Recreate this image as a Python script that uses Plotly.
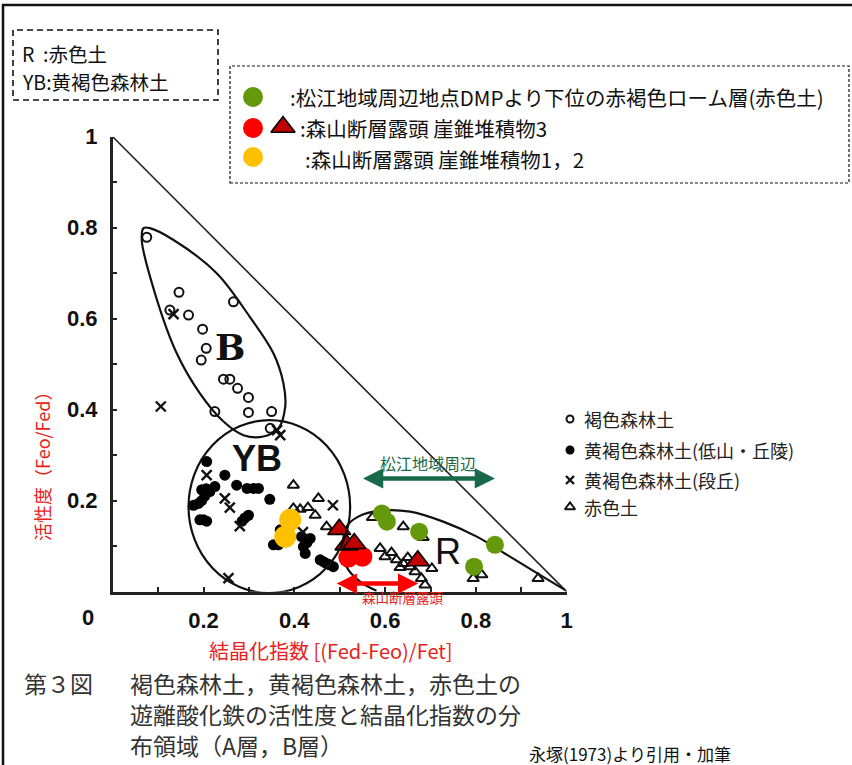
import plotly.graph_objects as go

W, H = 852, 765

# ---- data (x = 結晶化指数, y = 活性度) ----
hyp_x = [0.0, 1.0]
hyp_y = [1.0, 0.0]

b_zone_x = [0.068, 0.064, 0.093, 0.141, 0.192, 0.244, 0.288, 0.332, 0.365, 0.380, 0.376, 0.354, 0.302, 0.229, 0.134, 0.082, 0.068]
b_zone_y = [0.799, 0.773, 0.656, 0.524, 0.436, 0.374, 0.344, 0.341, 0.359, 0.407, 0.458, 0.524, 0.604, 0.700, 0.773, 0.799, 0.799]

yb_zone = [0.167, -0.003, 0.523, 0.377]  # x0, y0, x1, y1

r_zone_x = [0.581, 0.545, 0.515, 0.507, 0.515, 0.541, 0.589, 0.655, 0.728, 0.802, 0.875, 0.941, 0.996]
r_zone_y = [0.002, 0.022, 0.055, 0.099, 0.143, 0.165, 0.178, 0.176, 0.154, 0.121, 0.077, 0.037, 0.004]

brown_x = [0.075, 0.146, 0.126, 0.167, 0.266, 0.198, 0.206, 0.195, 0.244, 0.258, 0.275, 0.299, 0.225, 0.299, 0.350, 0.347]
brown_y = [0.779, 0.658, 0.619, 0.608, 0.637, 0.577, 0.535, 0.509, 0.467, 0.467, 0.447, 0.427, 0.396, 0.394, 0.396, 0.359]

hill_x = [0.207, 0.247, 0.273, 0.296, 0.310, 0.321, 0.346, 0.196, 0.206, 0.214, 0.225, 0.196, 0.178, 0.203, 0.189,
          0.192, 0.200, 0.207, 0.285, 0.291, 0.299, 0.369, 0.354, 0.365, 0.416, 0.420, 0.424, 0.435, 0.428,
          0.457, 0.464, 0.471, 0.478, 0.486]
hill_y = [0.286, 0.256, 0.234, 0.227, 0.227, 0.227, 0.203, 0.224, 0.226, 0.220, 0.231, 0.200, 0.190, 0.210, 0.194,
          0.158, 0.158, 0.155, 0.155, 0.162, 0.168, 0.136, 0.103, 0.103, 0.121, 0.099, 0.084, 0.117, 0.108,
          0.070, 0.066, 0.062, 0.059, 0.055]

terrace_x = [0.134, 0.106, 0.362, 0.369, 0.207, 0.247, 0.258, 0.280, 0.419, 0.485, 0.255]
terrace_y = [0.610, 0.407, 0.355, 0.344, 0.256, 0.205, 0.185, 0.144, 0.131, 0.190, 0.030]

red_x = [0.398, 0.398, 0.413, 0.430, 0.453, 0.446, 0.471,
         0.572, 0.640, 0.684, 0.589, 0.600, 0.614, 0.625, 0.640, 0.633, 0.655, 0.666, 0.650,
         0.703, 0.680, 0.688, 0.794, 0.813, 0.937]
red_y = [0.234, 0.183, 0.181, 0.185, 0.205, 0.168, 0.143,
         0.163, 0.143, 0.119, 0.095, 0.077, 0.086, 0.070, 0.062, 0.053, 0.055, 0.044, 0.075,
         0.051, 0.029, 0.015, 0.029, 0.037, 0.029]

mori3_dot_x = [0.519, 0.550]
mori3_dot_y = [0.075, 0.077]
mori3_tri_x = [0.499, 0.515, 0.532, 0.672]
mori3_tri_y = [0.137, 0.103, 0.106, 0.068]
mori12_x = [0.391, 0.380]
mori12_y = [0.158, 0.121]
matsue_x = [0.593, 0.604, 0.675, 0.842, 0.796]
matsue_y = [0.172, 0.154, 0.132, 0.103, 0.055]

matsue_range = [0.548, 0.842]
mori_range = [0.490, 0.673]

tick_vals = [0.1, 0.2, 0.3, 0.4, 0.5, 0.6, 0.7, 0.8, 0.9, 1.0]
tick_text = ["", "0.2", "", "0.4", "", "0.6", "", "0.8", "", "1"]

GREEN = "#63990a"
RED = "#ff0000"
DARKRED = "#c00000"
GOLD = "#ffc000"
ARROW_GREEN = "#17694a"
TITLE_RED = "#e8231b"
JP = "Noto Sans CJK JP"


def px(x):
    return x / W


def py(y):
    return 1 - y / H


fig = go.Figure()

fig.add_trace(go.Scatter(x=hyp_x, y=hyp_y, mode="lines", line=dict(color="#222", width=1.6)))
fig.add_trace(go.Scatter(x=b_zone_x, y=b_zone_y, mode="lines",
                         line=dict(color="#111", width=2.2, shape="spline", smoothing=1.0)))
fig.add_trace(go.Scatter(x=r_zone_x, y=r_zone_y, mode="lines",
                         line=dict(color="#111", width=2.2, shape="spline", smoothing=1.0)))

fig.add_trace(go.Scatter(x=brown_x, y=brown_y, mode="markers",
                         marker=dict(symbol="circle-open", size=9, color="#111", line=dict(width=2))))
fig.add_trace(go.Scatter(x=hill_x, y=hill_y, mode="markers",
                         marker=dict(symbol="circle", size=11, color="#000")))
fig.add_trace(go.Scatter(x=terrace_x, y=terrace_y, mode="markers",
                         marker=dict(symbol="x-thin-open", size=10, color="#111", line=dict(width=2.4, color="#111"))))
fig.add_trace(go.Scatter(x=red_x, y=red_y, mode="markers",
                         marker=dict(symbol="triangle-up-open", size=10, color="#111", line=dict(width=2))))

fig.add_trace(go.Scatter(x=mori12_x, y=mori12_y, mode="markers",
                         marker=dict(symbol="circle", size=22, color=GOLD)))
fig.add_trace(go.Scatter(x=matsue_x, y=matsue_y, mode="markers",
                         marker=dict(symbol="circle", size=18, color=GREEN)))
fig.add_trace(go.Scatter(x=mori3_dot_x, y=mori3_dot_y, mode="markers",
                         marker=dict(symbol="circle", size=20, color=RED)))
fig.add_trace(go.Scatter(x=mori3_tri_x, y=mori3_tri_y, mode="markers",
                         marker=dict(symbol="triangle-up", size=20, color=DARKRED, line=dict(color="#000", width=1.6))))

# legend symbols, drawn on a pixel-sized overlay axis
fig.add_trace(go.Scatter(x=[253], y=[97], xaxis="x2", yaxis="y2", mode="markers",
                         marker=dict(symbol="circle", size=20, color=GREEN)))
fig.add_trace(go.Scatter(x=[253], y=[128], xaxis="x2", yaxis="y2", mode="markers",
                         marker=dict(symbol="circle", size=20, color=RED)))
fig.add_trace(go.Scatter(x=[283], y=[127], xaxis="x2", yaxis="y2", mode="markers",
                         marker=dict(symbol="triangle-up", size=21, color=DARKRED, line=dict(color="#000", width=1.6))))
fig.add_trace(go.Scatter(x=[253], y=[157], xaxis="x2", yaxis="y2", mode="markers",
                         marker=dict(symbol="circle", size=20, color=GOLD)))
fig.add_trace(go.Scatter(x=[570], y=[419], xaxis="x2", yaxis="y2", mode="markers",
                         marker=dict(symbol="circle-open", size=7, color="#111", line=dict(width=2))))
fig.add_trace(go.Scatter(x=[570], y=[450], xaxis="x2", yaxis="y2", mode="markers",
                         marker=dict(symbol="circle", size=9, color="#000")))
fig.add_trace(go.Scatter(x=[570], y=[480], xaxis="x2", yaxis="y2", mode="markers",
                         marker=dict(symbol="x-thin-open", size=8, color="#111", line=dict(width=2.4, color="#111"))))
fig.add_trace(go.Scatter(x=[570], y=[507], xaxis="x2", yaxis="y2", mode="markers",
                         marker=dict(symbol="triangle-up-open", size=9, color="#111", line=dict(width=2))))

shapes = [
    dict(type="circle", xref="x", yref="y", x0=yb_zone[0], y0=yb_zone[1], x1=yb_zone[2], y1=yb_zone[3],
         line=dict(color="#111", width=2.2)),
    # outer frame
    dict(type="rect", xref="paper", yref="paper", x0=px(3), y0=py(800), x1=px(900), y1=py(5),
         line=dict(color="#111", width=2.5)),
    dict(type="rect", xref="paper", yref="paper", x0=px(13), y0=py(100), x1=px(218), y1=py(30),
         line=dict(color="#111", width=1.6, dash="6px,4px")),
    dict(type="rect", xref="paper", yref="paper", x0=px(230), y0=py(183), x1=px(849), y1=py(66),
         line=dict(color="#111", width=1.2, dash="3px,2px")),
]

ann = []


def text(x, y, s, size=18, color="#111", family=JP, xanchor="left", angle=0):
    ann.append(dict(x=px(x), y=py(y), xref="paper", yref="paper", text=s, showarrow=False,
                    xanchor=xanchor, yanchor="middle", textangle=angle,
                    font=dict(size=size, color=color, family=family)))


text(20, 54, "R  :赤色土", 19.5)
text(20, 82, "YB:黄褐色森林土", 19.5)
text(288, 97, ":松江地域周辺地点DMPより下位の赤褐色ローム層(赤色土)", 20.5)
text(298, 128, ":森山断層露頭 崖錐堆積物3", 20.5)
text(303, 159, ":森山断層露頭 崖錐堆積物1，2", 20.5)

text(582, 419, "褐色森林土", 18, "#222")
text(582, 450, "黄褐色森林土(低山・丘陵)", 18, "#222")
text(582, 480, "黄褐色森林土(段丘)", 18, "#222")
text(582, 507, "赤色土", 18, "#222")

text(88, 617, "<b>0</b>", 22, "#111", "Liberation Sans", "center")
text(42, 462, "活性度（Feo/Fed）", 18, TITLE_RED, JP, "center", -90)
text(331, 650, "結晶化指数 [(Fed-Feo)/Fet]", 20, TITLE_RED, JP, "center")

text(22, 683, "第３図", 23, "#333")
text(128, 683, "褐色森林土，黄褐色森林土，赤色土の", 23, "#333")
text(128, 714, "遊離酸化鉄の活性度と結晶化指数の分", 23, "#333")
text(128, 745, "布領域（A層，B層）", 23, "#333")
text(527, 753, "永塚(1973)より引用・加筆", 17, "#111")

text(428, 463, "松江地域周辺", 16, ARROW_GREEN, JP, "center")
text(403, 597, "森山断層露頭", 13.5, TITLE_RED, JP, "center")

# zone letters (data coords)
for lx, ly, s, fam, sz in [(0.258, 0.538, "<b>B</b>", "DejaVu Serif", 36),
                           (0.317, 0.293, "<b>YB</b>", "Liberation Sans Narrow, Liberation Sans", 36),
                           (0.739, 0.088, "R", "Liberation Sans", 36)]:
    ann.append(dict(x=lx, y=ly, xref="x", yref="y", text=s, showarrow=False,
                    font=dict(size=sz, color="#111", family=fam)))

# double arrows
for rng, yv, col in [(matsue_range, 0.249, ARROW_GREEN), (mori_range, 0.018, RED)]:
    ann.append(dict(x=rng[1], y=yv, ax=rng[0], ay=yv, xref="x", yref="y", axref="x", ayref="y",
                    text="", showarrow=True, arrowhead=2, arrowside="end+start", arrowsize=0.9,
                    arrowwidth=4.5, arrowcolor=col, standoff=0, startstandoff=0))

axis_common = dict(
    range=[0, 1], tickvals=tick_vals, ticktext=tick_text, ticks="inside", ticklen=5, tickwidth=2,
    tickcolor="#222", showline=True, linecolor="#222", linewidth=2.5, showgrid=False, zeroline=False,
    tickfont=dict(family="Liberation Sans", size=22, color="#111", weight="bold"), automargin=False,
)

fig.update_layout(
    width=W, height=H,
    margin=dict(l=0, r=0, t=0, b=0),
    paper_bgcolor="white",
    plot_bgcolor="rgba(0,0,0,0)",
    showlegend=False,
    xaxis=dict(domain=[112.7 / W, 566.7 / W], anchor="y", ticklabelstandoff=7, **axis_common),
    yaxis=dict(domain=[1 - 591.7 / H, 1 - 136.7 / H], anchor="x", ticklabelstandoff=8, **axis_common),
    xaxis2=dict(domain=[0, 1], range=[0, W], visible=False, anchor="y2"),
    yaxis2=dict(domain=[0, 1], range=[H, 0], visible=False, anchor="x2"),
    shapes=shapes,
    annotations=ann,
)

# page has a default body margin; drop it so the figure fills the window
fig.write_html("out.html", config={"displayModeBar": False},
               post_script="document.body.style.margin='0';")
